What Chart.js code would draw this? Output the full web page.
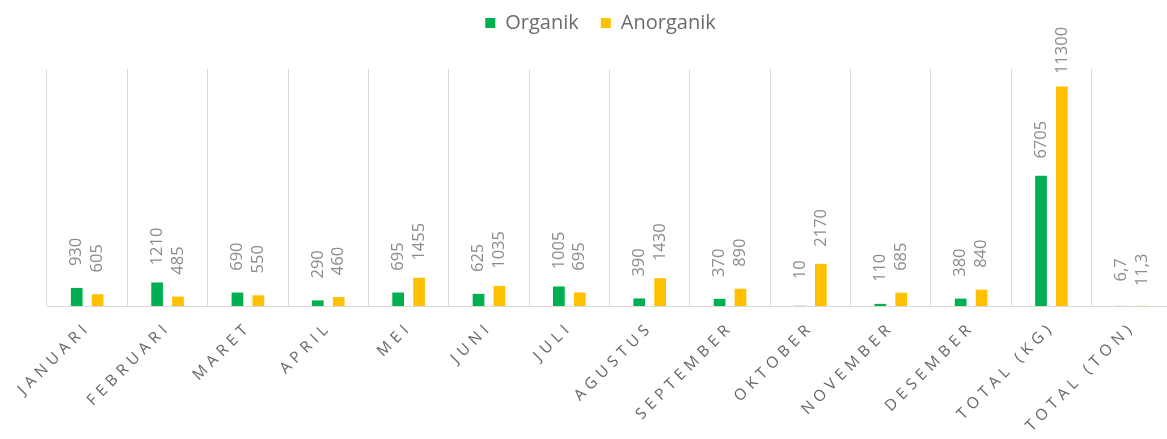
<!DOCTYPE html>
<html>
<head>
<meta charset="utf-8">
<script src="https://cdn.jsdelivr.net/npm/chart.js@4/dist/chart.umd.min.js"></script>
<style>
  html, body { margin: 0; padding: 0; background: #fff; overflow: hidden; }
  #wrap { position: relative; width: 1172px; height: 439px; }
</style>
</head>
<body>
<div id="wrap"><canvas id="wasteChart"></canvas></div>
<script>
// Sampah organik vs anorganik per bulan, plus total (kg) dan total (ton).
const categories = ['JANUARI', 'FEBRUARI', 'MARET', 'APRIL', 'MEI', 'JUNI', 'JULI',
                    'AGUSTUS', 'SEPTEMBER', 'OKTOBER', 'NOVEMBER', 'DESEMBER',
                    'TOTAL (KG)', 'TOTAL (TON)'];
const organik   = [930, 1210, 690, 290, 695, 625, 1005, 390, 370, 10, 110, 380, 6705, 6.7];
const anorganik = [605, 485, 550, 460, 1455, 1035, 695, 1430, 890, 2170, 685, 840, 11300, 11.3];

const GREEN = '#00B050';
const GOLD = '#FFC000';
const GRID = '#d9d9d9';

Chart.defaults.font.family = "'Open Sans', 'DejaVu Sans', sans-serif";

// stretch tick labels like the original (wide character spacing)
const spacedTicks = {
    id: 'spacedTicks',
    beforeDraw(chart) {
        const s = chart.scales.x;
        if (s._spaced) return;
        const orig = s.drawLabels;
        s.drawLabels = function (area) {
            this.ctx.save();
            this.ctx.letterSpacing = '5px';
            this.ctx.translate(1, -5);
            orig.call(this, area);
            this.ctx.restore();
        };
        s._spaced = true;
    }
};

// leave room between legend and plot area, nudge it left a bit
const legendGap = {
    id: 'legendGap',
    beforeInit(chart) {
        const lg = chart.legend;
        const fit = lg.fit;
        lg.fit = function () {
            fit.call(this);
            this.height = 78;
        };
        const draw = lg.draw;
        lg.draw = function () {
            this.ctx.save();
            this.ctx.translate(-9, 0);
            draw.call(this);
            this.ctx.restore();
        };
    }
};

// vertical value labels above each bar
const valueLabels = {
    id: 'valueLabels',
    afterDatasetsDraw(chart) {
        const ctx = chart.ctx;
        ctx.save();
        ctx.font = "16.5px 'Open Sans', sans-serif";
        ctx.fillStyle = '#8c8c8c';
        ctx.textAlign = 'center';
        ctx.textBaseline = 'middle';
        chart.data.datasets.forEach((ds, i) => {
            chart.getDatasetMeta(i).data.forEach((bar, j) => {
                const txt = String(ds.data[j]).replace('.', ',');
                ctx.save();
                ctx.translate(bar.x, bar.y - 36);
                ctx.rotate(-Math.PI / 2);
                ctx.fillText(txt, 0, 0);
                ctx.restore();
            });
        });
        ctx.restore();
    }
};

new Chart(document.getElementById('wasteChart'), {
    type: 'bar',
    data: {
        labels: categories,
        datasets: [
            { label: 'Organik', data: organik, backgroundColor: GREEN,
              categoryPercentage: 0.52, barPercentage: 0.56 },
            { label: 'Anorganik', data: anorganik, backgroundColor: GOLD,
              categoryPercentage: 0.52, barPercentage: 0.56 }
        ]
    },
    options: {
        responsive: true,
        maintainAspectRatio: false,
        animation: false,
        layout: { padding: { left: 47, right: 0, top: -9, bottom: 0 } },
        plugins: {
            legend: {
                position: 'top',
                labels: {
                    boxWidth: 10, boxHeight: 10, padding: 22,
                    color: '#6b6b6b', font: { size: 20 }
                }
            },
            tooltip: { enabled: false }
        },
        scales: {
            x: {
                grid: { color: GRID, lineWidth: 1, offset: true, drawTicks: false },
                border: { display: true, color: GRID },
                ticks: {
                    color: '#666666', font: { size: 15.5 },
                    minRotation: 45, maxRotation: 45, padding: 17
                },
                afterFit(s) { s.height = 133; }
            },
            y: {
                display: false,
                min: 0,
                max: 12200
            }
        }
    },
    plugins: [spacedTicks, legendGap, valueLabels]
});
</script>
</body>
</html>
